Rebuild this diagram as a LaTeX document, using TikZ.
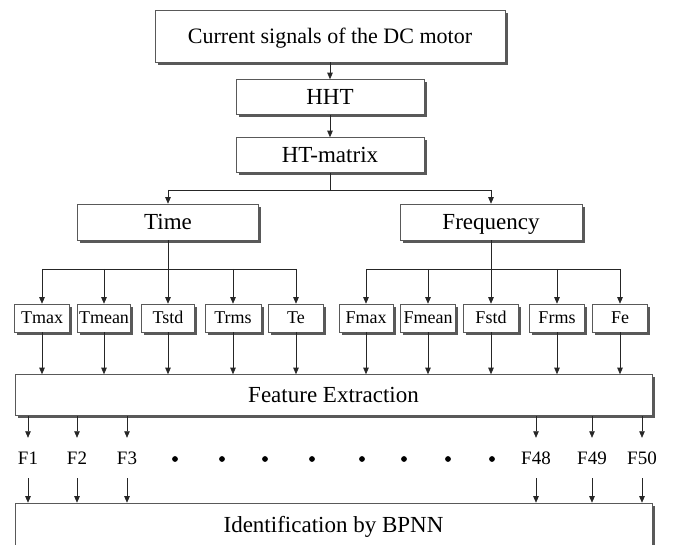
\documentclass[tikz,border=0pt]{standalone}
\usepackage{fontspec}
\setmainfont{Liberation Serif}
\usetikzlibrary{arrows.meta,shadows}
\tikzset{
  box/.style={draw=black!65, line width=0.6pt, fill=white, inner sep=0pt, text depth=0pt,
    drop shadow={shadow xshift=2.6pt, shadow yshift=-2.6pt, fill=black!65, opacity=1}},
  big/.style={font=\fontsize{23}{25}\selectfont, text height=15pt},
  top/.style={font=\fontsize{22}{24}\selectfont, text height=14.5pt},
  small/.style={font=\fontsize{18}{20}\selectfont, text height=12pt},
  flab/.style={inner sep=0pt, minimum height=40pt, text height=12.5pt, text depth=0pt,
    font=\fontsize{19}{21}\selectfont},
  conn/.style={draw=black!85, line width=0.65pt},
  arr/.style={conn, -{Triangle[length=6.5pt,width=5.5pt]}},
}
\begin{document}
\begin{tikzpicture}[x=1pt,y=-1pt]
\useasboundingbox (0,0) rectangle (686,545);
% main chain
\node[box,top,minimum width=350pt,minimum height=52pt] (cur) at (330,36) {Current signals of the DC motor};
\node[box,big,minimum width=188pt,minimum height=35pt] (hht) at (330,97) {HHT};
\node[box,big,minimum width=188pt,minimum height=35pt] (htm) at (330,155) {HT-matrix};
\node[box,big,minimum width=181pt,minimum height=36pt] (time) at (168,222) {Time};
\node[box,big,minimum width=182pt,minimum height=36pt] (freq) at (491,222) {Frequency};
% time children
\node[box,small,minimum width=55pt,minimum height=28pt] (tmax) at (42,318) {Tmax};
\node[box,small,minimum width=53pt,minimum height=28pt] (tmean) at (104,318) {Tmean};
\node[box,small,minimum width=53pt,minimum height=28pt] (tstd) at (168,318) {Tstd};
\node[box,small,minimum width=56pt,minimum height=28pt] (trms) at (233,318) {Trms};
\node[box,small,minimum width=55pt,minimum height=28pt] (te) at (296,318) {Te};
% frequency children
\node[box,small,minimum width=54pt,minimum height=28pt] (fmax) at (366,318) {Fmax};
\node[box,small,minimum width=55pt,minimum height=28pt] (fmean) at (428,318) {Fmean};
\node[box,small,minimum width=55pt,minimum height=28pt] (fstd) at (491,318) {Fstd};
\node[box,small,minimum width=55pt,minimum height=28pt] (frms) at (557,318) {Frms};
\node[box,small,minimum width=55pt,minimum height=28pt] (fe) at (620,318) {Fe};
% feature extraction and identification
\node[box,big,minimum width=637pt,minimum height=41pt] (fex) at (333.5,395) {Feature Extraction};
\node[box,big,minimum width=637pt,minimum height=44pt] (bpnn) at (333.5,525) {Identification by BPNN};
% feature labels
\node[flab] (f1) at (28,458) {F1};
\node[flab] (f2) at (77,458) {F2};
\node[flab] (f3) at (127,458) {F3};
\node[flab] (f48) at (536,458) {F48};
\node[flab] (f49) at (592,458) {F49};
\node[flab] (f50) at (642,458) {F50};
\foreach \x in {175,222,265,312,362,404,448,492}{\fill (\x,459) circle (2.9pt);}
% connectors
\draw[arr] (cur) -- (hht);
\draw[arr] (hht) -- (htm);
\coordinate (bt) at (168,190);
\coordinate (bf) at (491,190);
\draw[conn] (htm.south) -- (htm.south |- bt);
\draw[arr] (bt) -- (time.north);
\draw[arr] (bf) -- (freq.north);
\draw[conn] (bt) -- (bf);
\coordinate (tl) at (42,269);
\coordinate (tr) at (296,269);
\coordinate (fl) at (366,269);
\coordinate (fr) at (620,269);
\draw[conn] (tl) -- (tr);
\draw[conn] (fl) -- (fr);
\draw[conn] (time.south) -- (time.south |- tl);
\draw[conn] (freq.south) -- (freq.south |- fl);
\foreach \n in {tmax,tmean,tstd,trms,te}{
  \draw[arr] (\n.north |- tl) -- (\n.north);
  \draw[arr] (\n.south) -- (\n.south |- fex.north);
}
\foreach \n in {fmax,fmean,fstd,frms,fe}{
  \draw[arr] (\n.north |- fl) -- (\n.north);
  \draw[arr] (\n.south) -- (\n.south |- fex.north);
}
\foreach \n in {f1,f2,f3,f48,f49,f50}{
  \draw[arr] (\n.north |- fex.south) -- (\n.north);
  \draw[arr] (\n.south) -- (\n.south |- bpnn.north);
}
\end{tikzpicture}
\end{document}
